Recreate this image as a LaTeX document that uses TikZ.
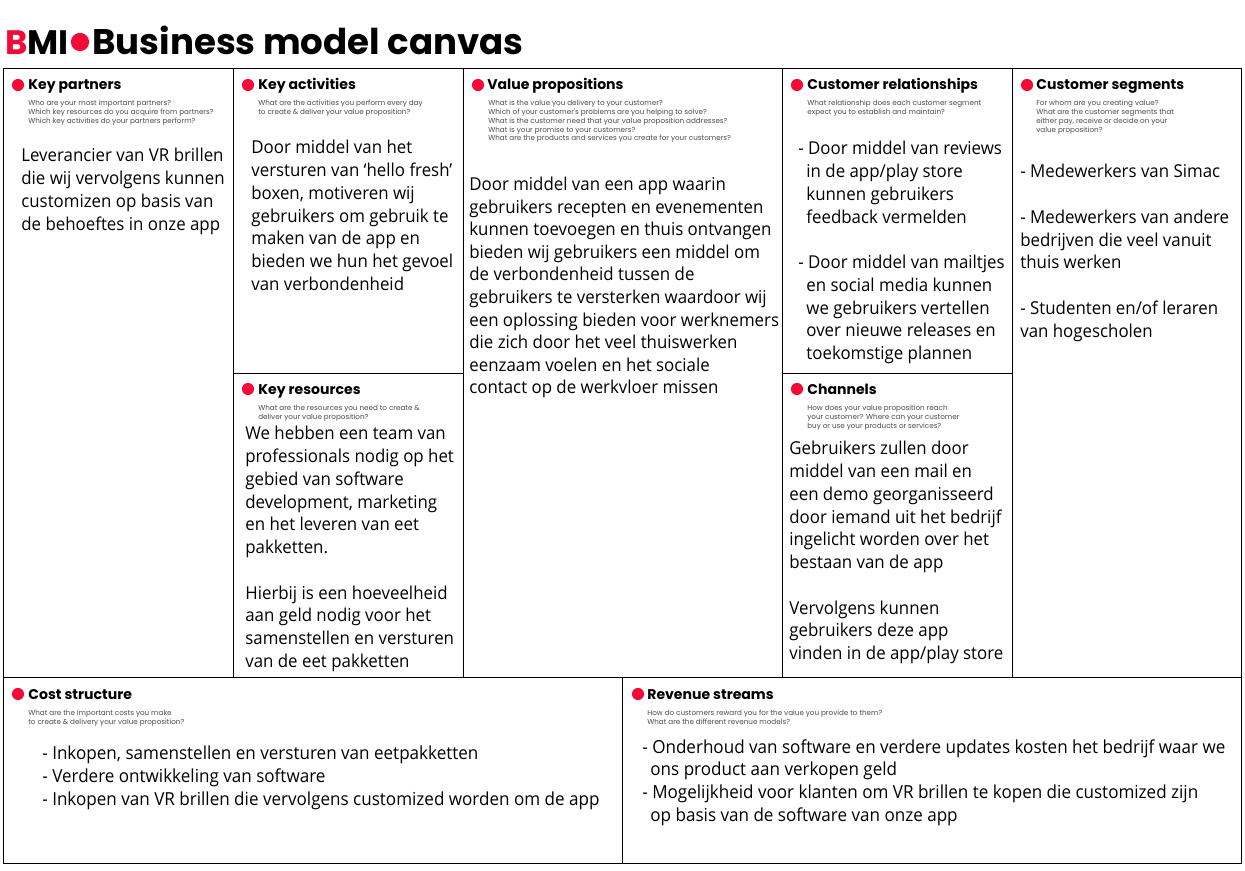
\documentclass[tikz,border=0pt]{standalone}
\usepackage{fontspec}
\usepackage{xcolor}
\usetikzlibrary{positioning}
\setmainfont{Open Sans}[FakeStretch=0.95]
\newfontfamily\popfont{Poppins}
\definecolor{bmired}{HTML}{F50A37}
\definecolor{subgray}{HTML}{4A4A4A}
\tikzset{
  reddot/.style={circle,fill=bmired,inner sep=0pt,minimum size=6.9pt},
  headtext/.style={inner sep=0pt,anchor=base west,font=\popfont\bfseries\fontsize{8pt}{10pt}\selectfont},
  subtext/.style={inner sep=0pt,anchor=north west,align=left,text=subgray,font=\popfont\fontsize{4.1pt}{5pt}\selectfont},
  bodytext/.style={inner sep=0pt,anchor=north west,align=left,font=\fontsize{10.1pt}{12.95pt}\selectfont},
  widetext/.style={bodytext,font=\fontsize{10.22pt}{12.95pt}\selectfont},
  cellline/.style={line width=0.55pt,draw=black}
}
\begin{document}
\begin{tikzpicture}[x=0.02cm,y=-0.02cm]
    \useasboundingbox (0,0) rectangle (1245,871);
    % title
    \node[inner sep=0pt,anchor=base west,font=\popfont\bfseries\fontsize{19.3pt}{24pt}\selectfont] (bmi) at (5,55) {\textcolor{bmired}{B}MI};
    \node[reddot,minimum size=10.4pt] (titledot) at (80,42) {};
    \node[inner sep=0pt,anchor=base west,font=\popfont\bfseries\fontsize{20.25pt}{24pt}\selectfont] (title) at (92,55) {Business model canvas};
    % grid
    \coordinate (tl) at (3,68);
    \coordinate (br) at (1241,863);
    \coordinate (a1) at (233,68);
    \coordinate (a2) at (233,677);
    \coordinate (b1) at (463,68);
    \coordinate (b2) at (463,677);
    \coordinate (c1) at (782,68);
    \coordinate (c2) at (782,677);
    \coordinate (d1) at (1012,68);
    \coordinate (d2) at (1012,677);
    \coordinate (e1) at (3,677);
    \coordinate (e2) at (1241,677);
    \coordinate (f1) at (622,677);
    \coordinate (f2) at (622,863);
    \draw[cellline] (tl) rectangle (br);
    \draw[cellline] (e1) -- (e2);
    \draw[cellline] (a1) -- (a2);
    \draw[cellline] (b1) -- (b2);
    \draw[cellline] (c1) -- (c2);
    \draw[cellline] (d1) -- (d2);
    \draw[cellline] (f1) -- (f2);
    \draw[cellline] (a2 |- 0,373) -- (b2 |- 0,373);
    \draw[cellline] (c2 |- 0,373) -- (d2 |- 0,373);
    % key partners
    \node[reddot] (partnersdot) at (18,85) {};
    \node[headtext] (partners) at (28,90) {Key partners};
    \node[subtext] (partnerssub) at (28,100) {Who are your most important partners?\\Which key resources do you acquire from partners?\\Which key activities do your partners perform?};
    \node[bodytext] (partnersbody) at (21,148) {Leverancier van VR brillen\\die wij vervolgens kunnen\\customizen op basis van\\de behoeftes in onze app};
    % key activities
    \node[reddot] (activitiesdot) at (248,85) {};
    \node[headtext] (activities) at (258,90) {Key activities};
    \node[subtext] (activitiessub) at (258,100) {What are the activities you perform every day\\to create \& deliver your value proposition?};
    \node[bodytext] (activitiesbody) at (251,140) {Door middel van het\\versturen van ‘hello fresh’\\boxen, motiveren wij\\gebruikers om gebruik te\\maken van de app en\\bieden we hun het gevoel\\van verbondenheid};
    % key resources
    \node[reddot] (resourcesdot) at (248,389) {};
    \node[headtext] (resources) at (258,395) {Key resources};
    \node[subtext] (resourcessub) at (258,405) {What are the resources you need to create \&\\deliver your value proposition?};
    \node[bodytext] (resourcesbody) at (245,426) {We hebben een team van\\professionals nodig op het\\gebied van software\\development, marketing\\en het leveren van eet\\pakketten.\\[12.95pt]Hierbij is een hoeveelheid\\aan geld nodig voor het\\samenstellen en versturen\\van de eet pakketten};
    % value propositions
    \node[reddot] (valuedot) at (478,85) {};
    \node[headtext] (value) at (487,90) {Value propositions};
    \node[subtext] (valuesub) at (488,100) {What is the value you delivery to your customer?\\Which of your customer's problems are you helping to solve?\\What is the customer need that your value proposition addresses?\\What is your promise to your customers?\\What are the products and services you create for your customers?};
    \node[bodytext,font=\fontsize{10.1pt}{12.83pt}\selectfont] (valuebody) at (469,177) {Door middel van een app waarin\\gebruikers recepten en evenementen\\kunnen toevoegen en thuis ontvangen\\bieden wij gebruikers een middel om\\de verbondenheid tussen de\\gebruikers te versterken waardoor wij\\een oplossing bieden voor werknemers\\die zich door het veel thuiswerken\\eenzaam voelen en het sociale\\contact op de werkvloer missen};
    % customer relationships
    \node[reddot] (relationsdot) at (797,85) {};
    \node[headtext] (relations) at (807,90) {Customer relationships};
    \node[subtext] (relationssub) at (807,100) {What relationship does each customer segment\\expect you to establish and maintain?};
    \node[bodytext] (relationsbody) at (798,141) {- Door middel van reviews\\\hspace*{4.6pt}in de app/play store\\\hspace*{4.6pt}kunnen gebruikers\\\hspace*{4.6pt}feedback vermelden\\[12.95pt]- Door middel van mailtjes\\\hspace*{4.6pt}en social media kunnen\\\hspace*{4.6pt}we gebruikers vertellen\\\hspace*{4.6pt}over nieuwe releases en\\\hspace*{4.6pt}toekomstige plannen};
    % channels
    \node[reddot] (channelsdot) at (797,389) {};
    \node[headtext] (channels) at (807,395) {Channels};
    \node[subtext] (channelssub) at (807,405) {How does your value proposition reach\\your customer? Where can your customer\\buy or use your products or services?};
    \node[bodytext] (channelsbody) at (789,441) {Gebruikers zullen door\\middel van een mail en\\een demo georganisseerd\\door iemand uit het bedrijf\\ingelicht worden over het\\bestaan van de app\\[12.95pt]Vervolgens kunnen\\gebruikers deze app\\vinden in de app/play store};
    % customer segments
    \node[reddot] (segmentsdot) at (1027,85) {};
    \node[headtext] (segments) at (1036,90) {Customer segments};
    \node[subtext] (segmentssub) at (1036,100) {For whom are you creating value?\\What are the customer segments that\\either pay, receive or decide on your\\value proposition?};
    \node[bodytext] (segmentsbody) at (1020,164) {- Medewerkers van Simac\\[12.95pt]- Medewerkers van andere\\bedrijven die veel vanuit\\thuis werken\\[12.95pt]- Studenten en/of leraren\\van hogescholen};
    % cost structure
    \node[reddot] (costdot) at (18,694) {};
    \node[headtext] (cost) at (28,699) {Cost structure};
    \node[subtext] (costsub) at (28,710) {What are the important costs you make\\to create \& delivery your value proposition?};
    \node[widetext] (costbody) at (42,746) {- Inkopen, samenstellen en versturen van eetpakketten\\- Verdere ontwikkeling van software\\- Inkopen van VR brillen die vervolgens customized worden om de app};
    % revenue streams
    \node[reddot] (revenuedot) at (638,694) {};
    \node[headtext] (revenue) at (647,699) {Revenue streams};
    \node[subtext] (revenuesub) at (647,710) {How do customers reward you for the value you provide to them?\\What are the different revenue models?};
    \node[widetext] (revenuebody) at (642,739) {- Onderhoud van software en verdere updates kosten het bedrijf waar we\\\hspace*{4.6pt}ons product aan verkopen geld\\- Mogelijkheid voor klanten om VR brillen te kopen die customized zijn\\\hspace*{4.6pt}op basis van de software van onze app};
  \end{tikzpicture}
\end{document}
